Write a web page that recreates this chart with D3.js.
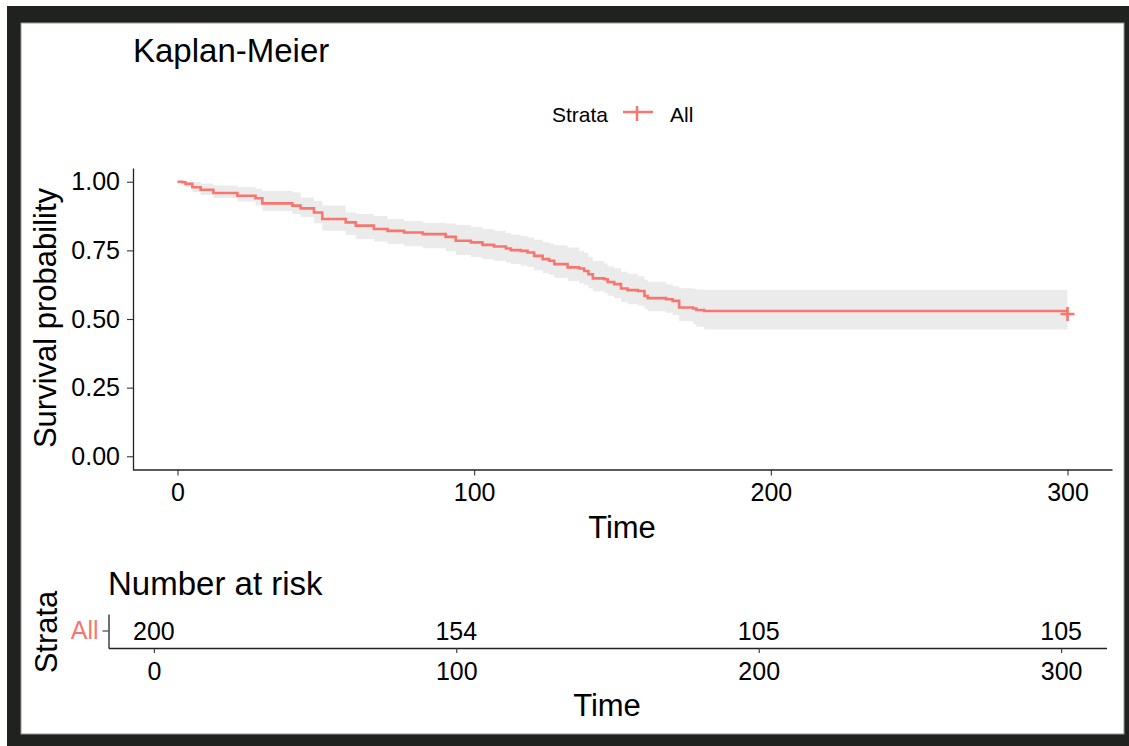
<!DOCTYPE html>
<html>
<head>
<meta charset="utf-8">
<script src="https://cdn.jsdelivr.net/npm/d3@7"></script>
<style>
  body { margin: 0; background: #fff; }
  text { font-family: "Liberation Sans", Arial, sans-serif; }
</style>
</head>
<body>
<div id="chart"></div>
<script>
// Kaplan-Meier step curve
var times = [0, 1.6, 2.7, 5.0, 7.8, 12.1, 20.2, 26.3, 28.6, 38.7, 41.5, 46.0, 48.8, 56.7, 60.1,
  66.2, 70.8, 76.4, 82.7, 90.4, 93.8, 98.9, 102.8, 106.7, 110.7, 112.4, 115.7, 118.0, 120.2,
  123.1, 125.3, 127.0, 131.5, 135.4, 137.1, 138.5, 140.0, 143.9, 145.0, 147.2, 149.5, 151.7,
  155.2, 157.4, 158.5, 164.7, 166.9, 169.1, 173.8, 174.9, 177.5, 300];
var surv = [1.000, 0.998, 0.992, 0.980, 0.971, 0.959, 0.949, 0.940, 0.921, 0.913, 0.903, 0.888,
  0.864, 0.852, 0.840, 0.828, 0.821, 0.815, 0.809, 0.799, 0.785, 0.779, 0.770, 0.764, 0.757,
  0.751, 0.748, 0.742, 0.730, 0.718, 0.712, 0.700, 0.688, 0.684, 0.675, 0.663, 0.648, 0.645,
  0.635, 0.627, 0.611, 0.605, 0.602, 0.584, 0.576, 0.572, 0.566, 0.542, 0.538, 0.533, 0.529, 0.529];
var upper = [1.000, 1.000, 1.000, 0.999, 0.994, 0.986, 0.981, 0.974, 0.966, 0.962, 0.943, 0.930,
  0.913, 0.888, 0.882, 0.875, 0.864, 0.857, 0.851, 0.848, 0.842, 0.835, 0.828, 0.821, 0.813,
  0.807, 0.802, 0.797, 0.789, 0.780, 0.775, 0.769, 0.760, 0.749, 0.740, 0.725, 0.711, 0.702,
  0.692, 0.685, 0.672, 0.665, 0.656, 0.643, 0.636, 0.627, 0.619, 0.612, 0.609, 0.607, 0.606, 0.606];
var lower = [1.000, 0.990, 0.981, 0.963, 0.952, 0.941, 0.928, 0.913, 0.893, 0.882, 0.871, 0.849,
  0.821, 0.806, 0.791, 0.782, 0.773, 0.765, 0.758, 0.747, 0.733, 0.725, 0.718, 0.712, 0.705,
  0.700, 0.694, 0.689, 0.678, 0.667, 0.660, 0.649, 0.638, 0.630, 0.623, 0.612, 0.601, 0.594,
  0.585, 0.576, 0.561, 0.554, 0.548, 0.536, 0.528, 0.523, 0.515, 0.492, 0.481, 0.472, 0.462, 0.462];
var censorTimes = [300];
var censorSurv = [0.529];

var xTicks = [0, 100, 200, 300];
var yTicks = [0, 0.25, 0.5, 0.75, 1];
var riskTimes = [0, 100, 200, 300];
var riskCounts = [200, 154, 105, 105];
var strata = ['All'];

var col = '#F8766D';
var W = 1129, H = 746;

var svg = d3.select('#chart').append('svg')
  .attr('width', W)
  .attr('height', H);

// screenshot frame
svg.append('rect').attr('x', 7).attr('y', 6).attr('width', W - 7).attr('height', H - 6)
  .style('fill', '#1f221e');
svg.append('rect').attr('x', 21).attr('y', 23).attr('width', 1103).attr('height', 711)
  .style('fill', '#fff').style('stroke', '#999').style('stroke-width', 1);

var x = d3.scaleLinear().domain([-15, 315]).range([133, 1112]);
var y = d3.scaleLinear().domain([-0.05, 1.05]).range([470, 168]);

svg.append('text').text('Kaplan-Meier')
  .attr('x', 133).attr('y', 62)
  .style('font-size', '33px').style('fill', '#000');

// legend
var lg = svg.append('g');
lg.append('text').text('Strata').attr('x', 552).attr('y', 121.5).style('font-size', '21px');
lg.append('line').attr('x1', 623).attr('x2', 653).attr('y1', 112).attr('y2', 112)
  .style('stroke', col).style('stroke-width', 2.5);
lg.append('line').attr('x1', 637).attr('x2', 637).attr('y1', 106).attr('y2', 121)
  .style('stroke', col).style('stroke-width', 2.5);
lg.append('text').text(strata[0]).attr('x', 670).attr('y', 121.5).style('font-size', '21px');

var pts = times.map(function (t, i) {
  return { t: t, s: surv[i], u: upper[i], l: lower[i] };
});

var band = d3.area()
  .curve(d3.curveStepAfter)
  .x(function (d) { return x(d.t); })
  .y0(function (d) { return y(d.l); })
  .y1(function (d) { return y(d.u); });

svg.append('path').datum(pts).attr('d', band)
  .style('fill', '#ebebeb');

var line = d3.line()
  .curve(d3.curveStepAfter)
  .x(function (d) { return x(d.t); })
  .y(function (d) { return y(d.s); });

svg.append('path').datum(pts).attr('d', line)
  .style('fill', 'none').style('stroke', col).style('stroke-width', 2.6);

// censor marks
censorTimes.forEach(function (t, i) {
  var cx = x(t), cy = y(censorSurv[i]) + 3;
  svg.append('path')
    .attr('d', 'M' + (cx - 7) + ',' + cy + 'H' + (cx + 7) + 'M' + cx + ',' + (cy - 7) + 'V' + (cy + 7))
    .style('stroke', col).style('stroke-width', 2.6).style('fill', 'none');
});

// axes
var xAxis = svg.append('g').attr('transform', 'translate(0,469.5)')
  .call(d3.axisBottom(x).tickValues(xTicks).tickSize(6).tickPadding(8).tickSizeOuter(0));
var yAxis = svg.append('g').attr('transform', 'translate(133,0)')
  .call(d3.axisLeft(y).tickValues(yTicks).tickFormat(d3.format('.2f')).tickSize(6).tickPadding(7).tickSizeOuter(0));

[xAxis, yAxis].forEach(function (a) {
  a.select('.domain').style('stroke', '#222').style('stroke-width', 1.3);
  a.selectAll('.tick line').style('stroke', '#333').style('stroke-width', 1.1);
  a.selectAll('.tick text').style('font-size', '25px').style('fill', '#000')
    .style('font-family', '"Liberation Sans", Arial, sans-serif');
});

svg.append('text').text('Time')
  .attr('x', 622).attr('y', 538).attr('text-anchor', 'middle')
  .style('font-size', '31px');
svg.append('text').text('Survival probability')
  .attr('transform', 'translate(56,318) rotate(-90)').attr('text-anchor', 'middle')
  .style('font-size', '31px');

// number at risk table
var xr = d3.scaleLinear().domain([-15, 315]).range([108.5, 1106.5]);
var yr = d3.scaleBand().domain(strata).range([614, 648]);

svg.append('text').text('Number at risk')
  .attr('x', 108).attr('y', 595)
  .style('font-size', '33px');

var rAxisX = svg.append('g').attr('transform', 'translate(0,648)')
  .call(d3.axisBottom(xr).tickValues(xTicks).tickSize(5).tickPadding(9).tickSizeOuter(0));
var rAxisY = svg.append('g').attr('transform', 'translate(108.5,0)')
  .call(d3.axisLeft(yr).tickSize(6).tickPadding(4).tickSizeOuter(0));

[rAxisX, rAxisY].forEach(function (a) {
  a.select('.domain').style('stroke', '#222').style('stroke-width', 1.3);
  a.selectAll('.tick line').style('stroke', '#333').style('stroke-width', 1.1);
  a.selectAll('.tick text').style('font-size', '25px').style('fill', '#000')
    .style('font-family', '"Liberation Sans", Arial, sans-serif');
});
rAxisY.selectAll('.tick text').style('fill', col);

svg.selectAll('.risk').data(riskTimes).enter().append('text')
  .attr('class', 'risk')
  .attr('x', function (d) { return xr(d); })
  .attr('y', yr('All') + yr.bandwidth() / 2)
  .attr('dy', '0.35em')
  .attr('text-anchor', 'middle')
  .style('font-size', '25px')
  .text(function (d, i) { return riskCounts[i]; });

svg.append('text').text('Time')
  .attr('x', 607).attr('y', 716).attr('text-anchor', 'middle')
  .style('font-size', '31px');
svg.append('text').text('Strata')
  .attr('transform', 'translate(57,632) rotate(-90)').attr('text-anchor', 'middle')
  .style('font-size', '31px');
</script>
</body>
</html>
